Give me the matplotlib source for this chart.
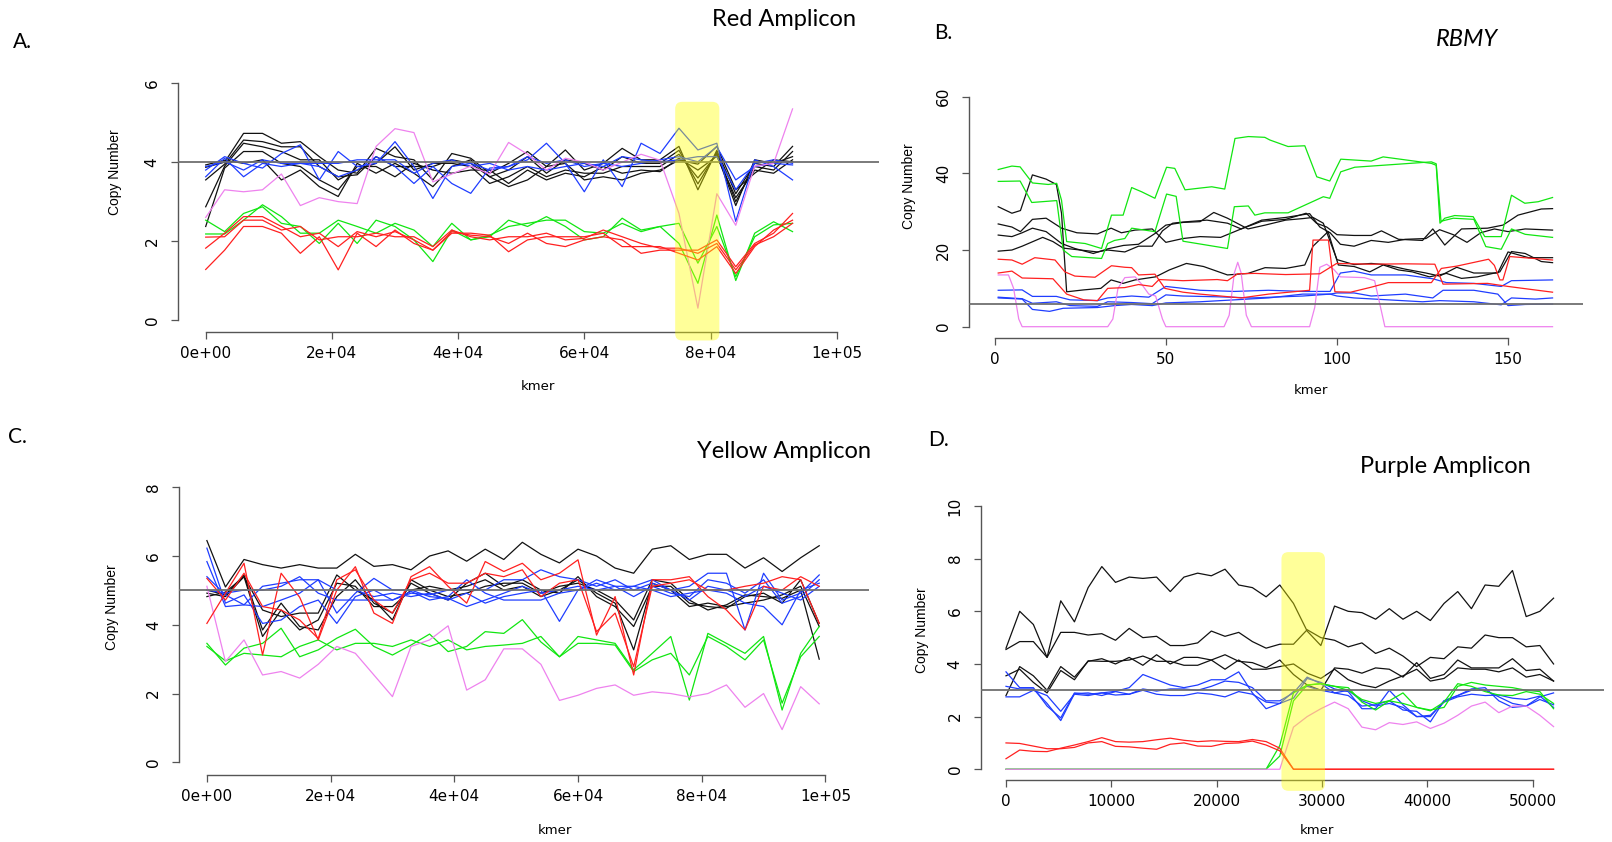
import numpy as np
import matplotlib.pyplot as plt
from matplotlib.patches import FancyBboxPatch
from matplotlib.transforms import IdentityTransform

plt.rcParams['font.family'] = ['DejaVu Sans']

W, H = 1612, 842

# ---------------- A. Red Amplicon ----------------
a_x = np.linspace(0, 93000, 32)
a_black = [
    [3.87,4.0,4.73,4.73,4.48,4.52,4.14,3.80,3.72,4.35,4.14,4.06,3.55,4.22,4.10,3.72,3.97,4.27,3.89,4.31,3.80,3.97,4.35,4.06,4.06,4.4,3.3,4.3,3.2,3.97,3.89,4.4],
    [3.55,3.95,4.56,4.52,4.39,4.39,3.89,3.63,3.68,4.14,3.89,3.89,3.89,4.06,3.97,3.63,3.80,4.14,3.72,4.06,3.97,3.80,4.14,3.97,3.97,4.3,3.45,4.25,3.0,3.89,3.80,4.27],
    [2.87,3.9,4.48,4.39,4.27,4.06,4.06,3.55,3.80,3.97,4.39,3.80,3.97,3.97,3.89,3.46,3.63,3.89,3.63,3.80,3.72,3.72,3.89,3.89,3.89,4.2,3.6,4.2,2.9,4.06,3.97,4.14],
    [2.37,3.85,4.27,4.27,3.97,3.89,3.55,3.30,3.89,3.89,3.63,3.97,3.80,3.72,3.80,3.80,3.46,3.80,3.55,3.72,3.63,3.89,3.72,3.80,3.76,4.1,3.8,4.15,3.1,3.80,3.72,4.06],
    [3.93,4.05,3.97,4.06,3.55,3.80,3.38,3.13,3.97,3.72,3.97,3.72,3.38,3.89,4.06,3.63,3.38,3.55,3.89,3.97,3.55,3.63,3.55,3.72,3.80,4.05,3.95,4.4,3.3,3.72,4.06,4.01],
]
a_blue = [
    [3.80,4.14,3.97,3.85,4.22,4.44,3.55,4.27,3.89,3.97,4.52,3.89,3.08,3.89,3.97,3.80,3.89,4.06,4.48,3.97,3.25,4.06,3.38,4.48,4.22,4.86,4.31,4.48,2.5,4.06,3.89,3.55],
    [3.63,4.10,3.63,3.97,3.89,3.97,3.89,3.63,3.80,4.14,3.89,3.46,3.89,3.46,3.21,3.85,3.89,4.14,3.97,4.06,3.89,3.97,3.89,3.97,4.06,4.14,4.01,4.39,3.55,3.89,3.97,3.93],
    [3.89,4.01,3.80,4.06,3.97,3.97,3.97,3.97,4.06,4.06,4.06,3.72,3.97,4.06,3.89,3.97,3.80,3.89,3.80,3.89,3.97,3.89,4.14,4.06,4.01,4.06,4.14,4.14,3.30,3.97,4.06,3.97],
]
a_green = [
    [2.53,2.24,2.70,2.87,2.45,2.37,1.94,2.45,1.94,2.53,2.37,2.03,1.48,2.28,2.03,2.11,2.53,2.37,2.62,2.37,2.03,2.11,2.58,2.28,2.37,1.94,0.93,2.66,1.0,2.20,2.49,2.24],
    [2.18,2.18,2.53,2.92,2.62,2.20,2.20,2.53,2.37,2.20,2.45,2.28,1.86,2.45,2.03,2.15,2.37,2.45,2.53,2.53,2.24,2.20,2.45,2.24,2.37,2.45,1.44,2.37,1.1,2.11,2.41,2.45],
]
a_red = [
    [1.82,2.20,2.62,2.62,2.37,2.11,2.20,1.86,2.24,2.11,2.24,2.03,1.77,2.24,2.15,2.11,1.94,2.20,1.94,1.86,2.03,2.11,2.03,1.69,1.77,1.77,1.77,2.03,1.35,1.94,2.20,2.70],
    [1.28,1.77,2.37,2.37,2.20,1.69,2.11,1.27,2.20,1.86,2.28,1.94,1.77,2.20,2.20,2.15,1.73,2.03,2.11,2.11,2.11,2.20,1.86,1.86,1.86,1.69,1.52,1.86,1.18,1.86,2.28,2.53],
    [2.10,2.11,2.53,2.53,2.28,2.37,2.03,2.11,2.11,2.20,2.11,2.11,1.86,2.28,2.11,2.03,2.11,2.11,2.20,2.03,2.07,2.28,2.11,1.94,1.82,1.82,1.69,1.94,1.27,1.90,2.11,2.45],
]
a_violet = [2.6,3.3,3.25,3.3,3.7,2.9,3.1,3.0,2.95,4.4,4.85,4.75,3.5,3.7,3.9,3.7,4.5,4.2,3.8,4.1,4.0,3.8,4.0,4.2,4.05,2.7,0.3,3.2,2.4,3.9,3.97,5.35]
a_hi_x = [74400, 81400]
a_hi_y = [-0.52, 5.53]

# ---------------- B. RBMY ----------------
b_green = [
    ([1,5,7.4,11,15.6,18.1,19.5,21,26.4,31.2,34.1,37.5,40,42.9,46.8,50.2,52.6,55.6,59.4,63.4,67.2,70.2,74.1,78.9,80.4,85.7,90.6,94.1,97.9,101.1,110,113.5,127.6,129,130.1,131.5,134.4,139.8,143.2,148,151,154.9,158.8,163],
     [41.0,41.9,41.7,37.5,37.1,37.4,33,22.2,21.7,20.4,29.1,29.1,36.3,35.2,33.5,41.6,41.3,35.7,36.1,36.5,35.9,49.1,49.6,49.4,48.7,47.0,47.2,39.1,38.0,43.7,43.2,44.3,42.6,42.1,27.0,28.3,29.0,28.7,23.5,23.5,34.3,32.2,32.6,33.7]),
    ([1,7.4,10.8,18.1,20,22.5,31.2,33,35,38,40,46.8,50.2,53,55,68,70,74.1,76,78.9,85.7,90.6,96,97.9,101.1,105.2,127.6,129,130.4,134,140,143.5,148,151,155,163],
     [37.9,38.0,32.4,32.9,20.0,18.3,17.8,21.7,22.5,23.0,25.7,24.8,34.6,34.0,22.3,20.4,31.3,31.5,29.1,29.7,29.7,31.7,33.9,33.5,40.4,41.6,43.0,42.5,27.5,28.3,28.0,20.9,20.2,25.5,24.1,23.3]),
]
b_black = [
    ([1,5,7.5,11,15,18,19.5,21,26,31,34,37.5,41,47,51,56,61,68,74,79,85,90.6,93,97.4,100.4,105,109.6,113.5,118,122,127,132,136.4,141,147.6,151,155,159.7,163],
     [31.3,29.6,30.3,39.6,38.5,37.1,29.6,9.1,9.6,10.0,12.2,11.3,12.2,13.0,14.8,16.5,15.7,13.5,13.9,15.4,15.2,16.1,21,24.8,16.1,15.7,14.3,16.1,14.8,14.3,13.0,13.9,12.6,13.0,14.3,19.6,19.1,17.0,16.7]),
    ([1,5,7.5,11,15,19.5,24,30,34,37,41,46,50,55,60,66,72,78,85,91,94,97,100,105,110,113,118,125,128,131.5,136.4,144,148.5,152.9,159.7,163],
     [26.8,26.0,24.8,28.0,28.3,25.7,24.5,24.2,25.7,24.5,25.2,25.5,22.0,23.0,23.5,23.3,25.5,27.5,28.0,29.6,27,26,24,23.8,23.8,25,22.8,22.5,25.5,21.3,25.5,25.7,26.5,29.1,30.7,30.8]),
    ([1,5,8,11,15,19.5,23.4,28.8,33,37.6,42,46.8,50,55,60,64,68,74,79,85,90,93,96,100,105,110,114,120,126,130,135,140,147,150,156,163],
     [23.9,23.5,24.5,25.7,24.8,21.7,20.4,19.1,20.3,21.2,21.5,24.3,26.5,27.2,27.4,29.8,28.3,25.5,26.5,27.8,28.2,28.5,27,17.5,16.2,16.5,16.2,15.0,14.0,13.2,15.5,14.0,14.0,19.5,18.0,18.0]),
    ([1,5,8,14,17,20,25,30,33,38,42,46,49,52,55,62,68,72,78,85,92,95,98,101,105,110,115,120,126,130,134,138,142,146,150,155,163],
     [19.7,20,21,23.3,22.2,20.5,20,19.5,20,19.5,21,21,25,27,27.3,27.8,27.0,25.5,27.8,28.5,29.5,26,24.5,21.5,21.0,22.5,22,22.8,23,25.3,24.0,22,24.5,25.5,24.8,25.5,25.2]),
]
b_red = [
    ([1,5,8,11.7,17.6,20.5,23.4,29.3,34.1,38,40,42,46.8,49.7,55,60,66,72,80,86,92,93,97.5,99.4,104,110,115,127.6,130.5,135,144.3,146,147.6,148.5,150.5,163],
     [17.6,17.4,16.3,18.0,17.4,14.3,13.2,12.9,15.9,15.5,15.4,13.5,13.7,10.0,9.0,8.5,8.0,7.5,8.5,9.0,9.5,22.6,22.6,9.1,9.0,10.3,11.5,11.5,15.2,15.8,17.6,16,12.2,12.2,18.3,17.4]),
    ([1,5,8,17,21,26,30,33,38,42,46,48,55,65,68,71,76,85,95,99.9,110,120,128.6,131,144,150,156,163],
     [14.0,14.5,12.7,12.5,8.5,7.0,6.8,10.0,10.2,11.0,10.5,12.3,12.0,12.3,12.0,13.8,13.9,13.6,13.8,16.5,16.3,16.4,16.3,11.1,11.3,10.5,9.8,9.0]),
]
b_blue = [
    ([1,8,11,18,22,30,33,40,45,50,55,60,70,80,90,98,101,105,110,120,128,132,140,148,151,163],
     [9.5,9.6,7.9,7.9,7.0,6.8,7.5,8.0,7.7,10.5,10.0,9.5,9.2,9.5,9.2,9.2,14.0,14.5,13.5,13.5,12.5,11.5,11.3,10.5,12.0,12.2]),
    ([1,8,11,18,22,30,33,40,46,50,55,65,75,90,98,100,105,110,120,128,131,140,147,150,155,163],
     [7.7,7.3,6.1,6.5,5.5,5.3,6.5,6.3,6.0,8.3,8.0,7.8,7.5,8.0,8.5,8.8,8.8,8.0,8.5,7.5,9.5,9.5,8.5,5.5,5.8,5.9]),
    ([1,8,11,16,20,30,35,40,46,50,60,70,80,90,98,100,105,115,125,130,140,148,151,158,163],
     [7.5,7.2,4.5,4.0,4.8,5.0,5.5,5.8,5.5,6.2,6.5,7.0,7.5,8.5,8.5,8.0,7.5,7.0,6.5,6.8,6.5,5.7,7.5,7.2,7.5]),
]
b_violet = ([1,4,5.5,7,8,33,34.5,36,38,41,43,45,47,49,50,67,68.5,70,71,72,73.5,75,92,93.5,95,97,99,101,108,111,113,114,163],
            [13.5,13.5,10,2,0,0,2,10,12.8,13.0,11,8.5,8,2,0,0,3,14,16.8,14,3,0,0,5,15.5,16.3,15,13.0,12.8,12.0,4,0,0])

# ---------------- C. Yellow Amplicon ----------------
c_x = np.arange(34) * 3000
c_black = [
    [6.45,5.1,5.9,5.75,5.65,5.75,5.65,5.65,6.05,5.7,5.75,5.6,6.0,6.15,5.85,6.2,5.9,6.4,6.05,5.8,6.2,6.0,5.65,5.5,6.2,6.3,5.9,6.05,6.05,5.65,5.95,5.55,5.95,6.3],
    [5.01,4.87,5.45,3.85,4.63,3.95,3.85,4.82,5.31,4.63,4.34,5.21,4.92,4.72,5.21,5.50,5.12,5.31,5.01,4.92,5.40,4.82,4.53,3.95,5.12,5.12,4.63,4.53,4.48,4.82,4.92,4.63,5.31,4.04],
    [4.92,4.82,5.40,3.66,4.43,3.85,4.14,5.21,5.12,4.53,4.53,5.01,5.12,5.01,5.12,5.31,5.01,5.12,4.82,5.01,5.31,4.92,4.63,3.27,5.21,5.01,4.53,4.63,4.53,4.63,4.72,4.87,5.12,3.95],
    [4.82,4.95,5.40,4.43,4.24,4.34,4.34,5.45,5.01,4.72,4.14,5.31,5.01,4.82,4.92,5.12,5.21,5.21,4.92,5.12,5.21,5.01,4.72,4.14,5.31,5.21,4.72,4.43,4.58,4.87,4.82,4.77,5.01,3.0],
]
c_blue = [
    [6.23,4.63,4.87,4.04,4.14,4.53,4.72,4.04,4.82,5.01,4.72,4.92,4.87,5.01,5.01,5.01,5.31,5.31,5.60,5.40,5.31,5.12,5.31,5.01,5.21,5.01,5.12,5.50,5.50,3.85,5.50,4.72,4.92,5.45],
    [5.84,4.53,4.58,4.53,4.72,4.92,5.31,4.34,4.92,5.35,5.01,5.01,4.82,4.77,4.53,4.72,4.92,5.12,4.92,5.01,5.12,5.01,5.12,4.82,5.12,4.92,4.82,5.31,5.21,4.92,5.31,4.63,4.82,5.31],
    [5.40,4.87,4.58,5.12,5.21,5.31,5.31,5.01,5.01,4.82,4.92,4.82,4.92,4.72,4.92,4.63,4.82,4.92,5.01,4.1,5.01,5.31,5.12,5.12,5.31,5.01,4.72,5.12,5.01,4.82,5.12,4.92,4.72,5.12],
    [5.01,4.92,5.01,5.01,5.12,5.40,4.92,4.72,4.72,4.72,4.72,4.97,4.72,4.82,5.31,4.92,4.72,4.72,4.72,4.92,5.01,5.21,5.01,5.12,5.01,4.82,4.92,5.01,4.92,4.63,4.53,4.0,5.01,5.21],
]
c_green = [
    [3.46,2.83,3.32,3.46,3.90,3.07,3.27,3.61,3.87,3.37,3.12,3.41,3.73,3.22,3.37,3.80,3.75,4.15,3.5,3.07,3.66,3.56,3.46,2.69,3.17,3.66,1.81,3.75,3.46,3.17,3.66,1.52,3.17,3.95],
    [3.37,2.95,3.17,3.12,3.07,3.37,3.56,3.27,3.46,3.46,3.37,3.56,3.37,3.56,3.27,3.37,3.41,3.46,3.66,3.07,3.46,3.46,3.41,2.64,2.98,3.17,2.54,3.66,3.37,2.98,3.56,1.72,3.07,3.66],
]
c_red = [
    [4.04,4.92,5.79,3.12,5.50,4.80,3.56,5.01,5.69,4.34,4.04,5.40,5.69,5.12,4.63,5.84,5.55,5.79,5.31,5.50,5.89,3.7,4.82,2.54,5.31,5.31,5.40,4.82,4.43,3.85,5.12,5.01,5.40,5.12],
    [5.35,4.72,5.50,4.53,4.43,4.14,3.60,5.31,5.60,4.72,4.34,5.31,5.50,5.21,5.21,5.50,5.40,5.60,4.82,5.21,5.31,3.80,4.34,2.78,5.12,5.21,5.31,5.01,5.01,5.12,5.21,5.40,5.31,4.04],
]
c_violet = [5.12,2.93,3.56,2.54,2.64,2.45,2.85,3.37,3.17,2.54,1.91,3.37,3.56,3.97,2.1,2.4,3.3,3.3,2.85,1.8,1.95,2.15,2.25,1.95,2.05,2.0,1.9,2.0,2.25,1.6,2.0,0.95,2.2,1.7]

# ---------------- D. Purple Amplicon ----------------
d_x = np.linspace(0, 52000, 41)
d_black = [
    [4.6,6.0,5.5,4.25,6.4,5.6,6.9,7.7,7.1,7.3,7.25,7.3,6.75,7.3,7.45,7.35,7.6,7.0,6.9,6.55,7.0,6.3,5.25,4.7,6.2,6.0,5.95,5.7,6.1,5.7,6.0,5.65,6.3,6.75,6.1,7.0,6.95,7.55,5.8,6.0,6.5],
    [4.55,4.85,4.85,4.25,5.2,5.2,5.1,5.15,4.9,5.35,5.0,5.05,4.7,4.7,4.8,5.25,5.05,5.2,4.85,4.6,4.75,4.75,5.3,5.0,4.9,4.65,4.8,4.4,4.6,4.3,3.9,4.25,4.2,4.65,4.6,5.1,5.0,5.0,4.65,4.7,4.0],
    [2.8,3.9,3.55,3.0,3.9,3.5,4.1,4.2,4.0,4.25,3.95,4.35,4.0,4.25,4.25,4.15,4.35,4.1,4.05,3.85,4.15,3.6,3.2,3.0,3.85,3.8,3.65,3.85,3.8,3.5,4.05,3.45,3.6,4.15,3.85,3.85,3.85,4.2,3.75,3.8,3.35],
    [3.55,3.8,3.3,2.9,3.75,3.4,4.12,4.1,4.1,4.15,4.3,4.1,4.1,3.95,3.95,4.15,3.8,4.15,3.8,3.8,3.9,4.0,3.65,3.45,3.8,3.4,3.2,3.1,3.35,3.55,3.8,3.35,3.45,3.85,3.8,3.8,3.7,3.85,3.5,3.6,3.35],
]
d_blue = [
    [3.7,3.1,3.1,2.4,1.95,2.9,2.85,2.9,2.96,3.1,3.6,3.4,3.2,3.1,3.2,3.4,3.4,3.7,2.9,2.3,2.5,2.7,3.45,3.3,3.05,2.95,2.3,2.3,3.0,2.45,2.0,2.0,2.6,2.8,3.0,3.0,2.75,2.5,2.4,2.75,2.9],
    [3.15,3.05,3.05,2.5,1.85,2.87,2.9,2.8,2.95,2.85,3.05,2.97,3.05,3.05,3.0,3.15,3.35,3.3,3.1,2.6,2.6,2.9,3.5,3.25,2.9,2.8,2.4,2.45,2.6,2.25,2.2,1.8,2.6,2.8,3.05,3.1,2.6,2.35,2.4,2.65,2.45],
    [2.75,2.75,3.0,2.8,2.2,2.85,2.8,2.9,2.82,2.85,3.0,2.85,2.8,2.8,2.9,2.85,2.75,2.95,2.85,2.55,2.5,2.95,3.15,3.0,2.9,3.0,2.6,2.4,2.5,2.35,2.0,2.05,2.55,2.75,2.85,2.8,2.82,2.7,2.65,2.78,2.35],
]
d_green = [
    [0,0,0,0,0,0,0,0,0,0,0,0,0,0,0,0,0,0,0,0,0.9,2.9,3.2,3.25,3.15,3.1,2.55,2.25,2.6,2.9,2.35,2.25,2.35,3.15,3.3,3.2,3.15,3.1,3.0,2.95,2.3],
    [0,0,0,0,0,0,0,0,0,0,0,0,0,0,0,0,0,0,0,0,0.5,2.6,3.2,3.25,3.15,3.0,2.65,2.5,2.6,2.5,2.35,2.22,2.55,3.25,3.15,2.95,2.82,2.8,2.95,2.85,2.5],
]
d_violet = [0,0,0,0,0,0,0,0,0,0,0,0,0,0,0,0,0,0,0,0,0,1.6,2.0,2.3,2.55,2.3,1.6,1.5,1.77,1.7,1.8,1.55,1.75,2.05,2.4,2.55,2.15,2.4,2.4,2.05,1.62]
d_red = [
    [1.0,0.98,0.88,0.78,0.78,0.83,1.0,1.05,0.87,0.85,0.8,0.76,0.95,1.0,0.88,0.87,0.98,1.0,1.07,0.92,0.7,0,0,0,0,0,0,0,0,0,0,0,0,0,0,0,0,0,0,0,0],
    [0.4,0.73,0.68,0.67,0.8,0.92,1.05,1.2,1.05,1.03,1.05,1.12,1.18,1.1,1.05,1.08,1.06,1.05,1.13,1.05,0.8,0,0,0,0,0,0,0,0,0,0,0,0,0,0,0,0,0,0,0,0],
]
d_hi_x = [26160, 30290]
d_hi_y = [-0.82, 8.25]

sci_labels = ['0e+00', '2e+04', '4e+04', '6e+04', '8e+04', '1e+05']

COL = {'k': '#111111', 'b': '#1f3dff', 'g': '#11e611', 'r': '#ff2020', 'v': '#ee82ee'}
LW = 0.9

fig = plt.figure(figsize=(W / 100, H / 100), dpi=100)


def make_axes(left, right, top, bottom, xlim, ylim, xticks, xlabels, yticks, ref):
    ax = fig.add_axes([left / W, 1 - bottom / H, (right - left) / W, (bottom - top) / H])
    ax.set_xlim(xlim)
    ax.set_ylim(ylim)
    ax.patch.set_visible(False)
    for s in ['top', 'right']:
        ax.spines[s].set_visible(False)
    for s in ['left', 'bottom']:
        ax.spines[s].set_color('#555555')
        ax.spines[s].set_linewidth(1.0)
    ax.spines['left'].set_bounds(yticks[0], yticks[-1])
    ax.spines['bottom'].set_bounds(xticks[0], xticks[-1])
    ax.set_xticks(xticks, xlabels)
    ax.set_yticks(yticks, [str(t) for t in yticks])
    ax.tick_params(direction='out', length=5, width=0.9, color='#555555', labelsize=11)
    ax.tick_params(axis='x', pad=5)
    ax.tick_params(axis='y', pad=8, labelrotation=90)
    for lab in ax.get_yticklabels():
        lab.set_va('center')
    ax.axhline(ref, color='#6f6f6f', lw=1.3, zorder=4)
    return ax


def highlight(ax, xs, ys):
    (x0, y0), (x1, y1) = ax.transData.transform([(xs[0], ys[0]), (xs[1], ys[1])])
    p = FancyBboxPatch((x0, y0), x1 - x0, y1 - y0,
                       boxstyle='round,pad=0,rounding_size=7',
                       transform=IdentityTransform(), facecolor='#ffff00',
                       alpha=0.4, edgecolor='none', zorder=5)
    fig.add_artist(p)


def ftext(x, y, s, **kw):
    fig.text(x / W, 1 - y / H, s, ha='center', va='center', **kw)


# panel A
axA = make_axes(177.6, 879, 73.8, 331.7, (-4453, 106700), (-0.297, 6.24),
                [0, 20000, 40000, 60000, 80000, 100000], sci_labels, [0, 2, 4, 6], 4)
for y in a_black:
    axA.plot(a_x, y, color=COL['k'], lw=LW)
for y in a_blue:
    axA.plot(a_x, y, color=COL['b'], lw=LW)
for y in a_green:
    axA.plot(a_x, y, color=COL['g'], lw=LW)
axA.plot(a_x, a_violet, color=COL['v'], lw=LW)
for y in a_red:
    axA.plot(a_x, y, color=COL['r'], lw=LW)
highlight(axA, a_hi_x, a_hi_y)

# panel B
axB = make_axes(969.4, 1583, 87.5, 338.3, (-7.42, 171.9), (-3.03, 62.4),
                [0, 50, 100, 150], ['0', '50', '100', '150'], [0, 20, 40, 60], 6)
for xs, ys in b_black:
    axB.plot(xs, ys, color=COL['k'], lw=LW)
for xs, ys in b_blue:
    axB.plot(xs, ys, color=COL['b'], lw=LW)
for xs, ys in b_green:
    axB.plot(xs, ys, color=COL['g'], lw=LW)
axB.plot(b_violet[0], b_violet[1], color=COL['v'], lw=LW)
for xs, ys in b_red:
    axB.plot(xs, ys, color=COL['r'], lw=LW)

# panel C
axC = make_axes(178.9, 868.7, 476.3, 775, (-4527, 107000), (-0.37, 8.32),
                [0, 20000, 40000, 60000, 80000, 100000], sci_labels, [0, 2, 4, 6, 8], 5)
for y in c_black:
    axC.plot(c_x, y, color=COL['k'], lw=LW)
for y in c_blue:
    axC.plot(c_x, y, color=COL['b'], lw=LW)
for y in c_green:
    axC.plot(c_x, y, color=COL['g'], lw=LW)
axC.plot(c_x, c_violet, color=COL['v'], lw=LW)
for y in c_red:
    axC.plot(c_x, y, color=COL['r'], lw=LW)

# panel D
axD = make_axes(980.8, 1603.6, 495.5, 780.3, (-2393, 56752), (-0.42, 10.4),
                [0, 10000, 20000, 30000, 40000, 50000],
                ['0', '10000', '20000', '30000', '40000', '50000'], [0, 2, 4, 6, 8, 10], 3)
for y in d_black:
    axD.plot(d_x, y, color=COL['k'], lw=LW)
for y in d_blue:
    axD.plot(d_x, y, color=COL['b'], lw=LW)
for y in d_green:
    axD.plot(d_x, y, color=COL['g'], lw=LW)
axD.plot(d_x, d_violet, color=COL['v'], lw=LW)
for y in d_red:
    axD.plot(d_x, y, color=COL['r'], lw=LW)
highlight(axD, d_hi_x, d_hi_y)

# axis titles
lab_kw = dict(fontsize=10, family='Liberation Sans', rotation=90)
ftext(115, 172, 'Copy Number', **lab_kw)
ftext(909, 186, 'Copy Number', **lab_kw)
ftext(112, 607, 'Copy Number', **lab_kw)
ftext(922, 630, 'Copy Number', **lab_kw)
ftext(538, 387, 'kmer', fontsize=9.5)
ftext(1311, 390, 'kmer', fontsize=9.5)
ftext(555, 831, 'kmer', fontsize=9.5)
ftext(1317, 831, 'kmer', fontsize=9.5)

# panel titles and letters
tkw = dict(family='Lato', fontsize=17)
ftext(784, 19, 'Red Amplicon', **tkw)
ftext(1467, 39, 'RBMY', style='italic', **tkw)
ftext(784, 452, 'Yellow Amplicon', **tkw)
ftext(1445, 467, 'Purple Amplicon', **tkw)
lkw = dict(family='Lato', fontsize=15)
ftext(22, 42, 'A.', **lkw)
ftext(943, 33, 'B.', **lkw)
ftext(17, 437, 'C.', **lkw)
ftext(938, 440, 'D.', **lkw)

fig.savefig('out.png', dpi=100)
